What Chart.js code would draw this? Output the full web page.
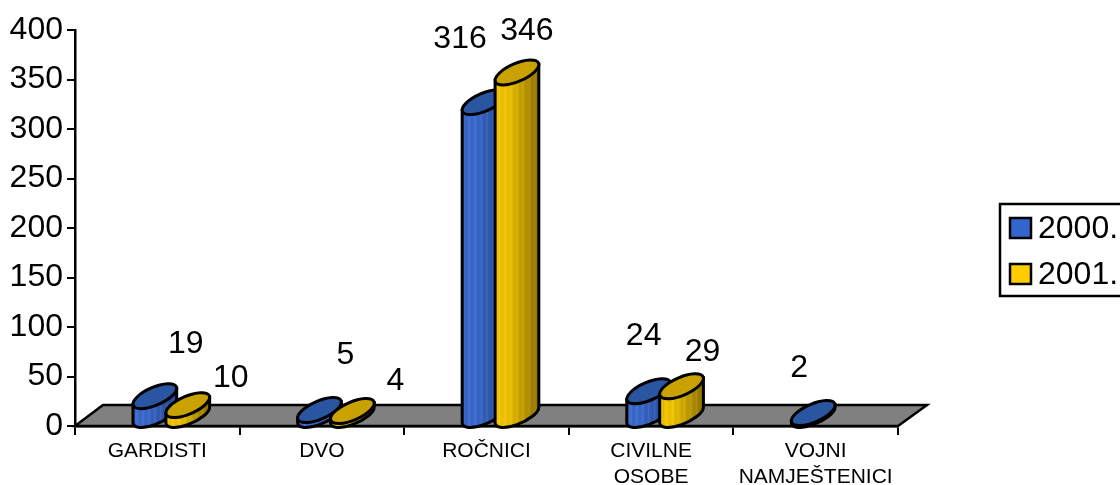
<!DOCTYPE html>
<html>
<head>
<meta charset="utf-8">
<style>
  html, body { margin: 0; padding: 0; background: #fff; overflow: hidden; }
  canvas { display: block; }
</style>
<script src="https://cdn.jsdelivr.net/npm/chart.js@4/dist/chart.umd.min.js"></script>
</head>
<body>
<canvas id="chart" width="1120" height="485"></canvas>
<script>
const categories = ["GARDISTI", "DVO", "ROČNICI", ["CIVILNE", "OSOBE"], ["VOJNI", "NAMJEŠTENICI"]];
const values2000 = [19, 5, 316, 24, 2];
const values2001 = [10, 4, 346, 29, null];
const seriesNames = ["2000.", "2001."];
const yTicks = [0, 50, 100, 150, 200, 250, 300, 350, 400];

// where Excel left the value labels, relative to the top of each bar
const labelNudge = [
  [[45, -63], [40, -66], [-10, -74], [9, -66], [0, -56]],
  [[57, -38], [57, -41], [24, -52], [35, -45], null],
];

const FONT = "'Liberation Sans', Arial, sans-serif";
const colors = [
  { key: "#3366cc", light: "#3a68cc", dark: "#24478f", top: "#2a55a0" },
  { key: "#ffcc00", light: "#efc200", dark: "#8f7200", top: "#c9a200" },
];

// cap of the cylinder
const RX = 23.5, RY = 9, TILT = -23.4 * Math.PI / 180, SHIFT = 14, LIFT = 10;

function drawCylinder(ctx, cx, topY, baseY, c) {
  const tR = Math.atan(-(RY / RX) * Math.tan(TILT));
  const half = Math.sqrt((RX * Math.cos(TILT)) ** 2 + (RY * Math.sin(TILT)) ** 2);
  const ext = RX * Math.cos(tR) * Math.sin(TILT) + RY * Math.sin(tR) * Math.cos(TILT);

  const grad = ctx.createLinearGradient(cx - half, 0, cx + half, 0);
  grad.addColorStop(0, c.light);
  grad.addColorStop(0.3, c.light);
  grad.addColorStop(1, c.dark);

  const body = new Path2D();
  body.moveTo(cx + half, topY + ext);
  body.lineTo(cx + half, baseY + ext);
  body.ellipse(cx, baseY, RX, RY, TILT, tR, tR + Math.PI, false);
  body.lineTo(cx - half, topY - ext);
  body.closePath();

  ctx.fillStyle = grad;
  ctx.fill(body);

  // thin vertical streaks of the gradient fill
  ctx.save();
  ctx.clip(body);
  ctx.lineWidth = 1;
  for (let x = cx - half + 4; x < cx + half; x += 3) {
    ctx.strokeStyle = Math.round(x) % 2 ? "rgba(255,255,255,0.10)" : "rgba(0,0,0,0.07)";
    ctx.beginPath();
    ctx.moveTo(x, topY - 30);
    ctx.lineTo(x, baseY + 30);
    ctx.stroke();
  }
  ctx.restore();

  ctx.lineWidth = 3;
  ctx.strokeStyle = "#000";
  ctx.stroke(body);

  ctx.fillStyle = c.top;
  ctx.beginPath();
  ctx.ellipse(cx, topY, RX, RY, TILT, 0, Math.PI * 2);
  ctx.fill();
  ctx.stroke();
}

const cylinderPlugin = {
  id: "cylinders",
  afterLayout(chart) {
    // legend sits in its own box on the right, cut off by the page edge
    const l = chart.legend;
    const w = l.right - l.left;
    const h = l.bottom - l.top;
    l.left = 1003;
    l.right = l.left + w;
    l.top = 199;
    l.bottom = l.top + h;
    l.adjustHitBoxes();
  },
  beforeDatasetsDraw(chart) {
    const { ctx, chartArea: a } = chart;
    ctx.save();
    ctx.fillStyle = "#808080";
    ctx.strokeStyle = "#000";
    ctx.lineWidth = 2.5;
    ctx.beginPath();
    ctx.moveTo(a.left, a.bottom);
    ctx.lineTo(a.left + 28, a.bottom - 21);
    ctx.lineTo(a.right + 29, a.bottom - 21);
    ctx.lineTo(a.right, a.bottom);
    ctx.closePath();
    ctx.fill();
    ctx.stroke();
    ctx.restore();
  },
  afterDatasetsDraw(chart) {
    const ctx = chart.ctx;
    const baseY = chart.scales.y.getPixelForValue(0) - LIFT - 1;
    ctx.save();
    categories.forEach((_, i) => {
      [0, 1].forEach((d) => {
        const el = chart.getDatasetMeta(d).data[i];
        if (chart.data.datasets[d].data[i] == null) return;
        drawCylinder(ctx, el.x + SHIFT, el.y - LIFT - 1, baseY, colors[d]);
      });
    });
    ctx.fillStyle = "#000";
    ctx.font = "32px " + FONT;
    ctx.textAlign = "center";
    ctx.textBaseline = "middle";
    chart.data.datasets.forEach((ds, d) => {
      ds.data.forEach((v, i) => {
        if (v == null) return;
        const el = chart.getDatasetMeta(d).data[i];
        ctx.fillText(String(v), el.x + labelNudge[d][i][0], el.y + labelNudge[d][i][1]);
      });
    });
    // legend frame and keys
    ctx.strokeStyle = "#000";
    ctx.lineWidth = 2.5;
    ctx.strokeRect(1000, 204, 130, 92);
    chart.legend.legendHitBoxes.forEach((b, d) => {
      const y = d === 0 ? 218 : 264;
      ctx.fillStyle = colors[d].key;
      ctx.lineWidth = 2.5;
      ctx.fillRect(1010, y, 21, 20);
      ctx.strokeRect(1010, y, 21, 20);
    });
    ctx.restore();
  },
};

new Chart(document.getElementById("chart"), {
  type: "bar",
  data: {
    labels: categories,
    datasets: [
      { label: seriesNames[0], data: values2000, backgroundColor: "rgba(0,0,0,0)", borderWidth: 0 },
      { label: seriesNames[1], data: values2001, backgroundColor: "rgba(0,0,0,0)", borderWidth: 0 },
    ],
  },
  options: {
    responsive: false,
    animation: false,
    categoryPercentage: 0.4,
    barPercentage: 1,
    layout: { padding: { top: 30, right: 222, left: 0, bottom: 0 } },
    plugins: {
      tooltip: { enabled: false },
      legend: {
        position: "chartArea",
        align: "start",
        labels: {
          color: "#000",
          font: { family: FONT, size: 32 },
          boxWidth: 5,
          boxHeight: 14,
          padding: 14,
          generateLabels: () =>
            seriesNames.map((t, i) => ({ text: t, datasetIndex: i, fillStyle: "rgba(0,0,0,0)", strokeStyle: "rgba(0,0,0,0)", lineWidth: 0 })),
        },
      },
    },
    scales: {
      x: {
        afterFit: (s) => { s.height = 59; },
        border: { color: "#000", width: 2.5 },
        grid: { drawOnChartArea: false, color: "#000", lineWidth: 2, tickLength: 9 },
        ticks: {
          color: "#000",
          autoSkip: false,
          maxRotation: 0,
          padding: 3,
          font: { family: FONT, size: 21, lineHeight: 1.25 },
        },
      },
      y: {
        min: 0,
        max: 400,
        afterFit: (s) => { s.width = 75; },
        afterBuildTicks: (s) => { s.ticks = yTicks.map((v) => ({ value: v })); },
        border: { color: "#000", width: 2.5 },
        grid: { drawOnChartArea: false, color: "#000", lineWidth: 2, tickLength: 8 },
        ticks: {
          color: "#000",
          padding: 4,
          font: { family: FONT, size: 32 },
        },
      },
    },
  },
  plugins: [cylinderPlugin],
});
</script>
</body>
</html>
